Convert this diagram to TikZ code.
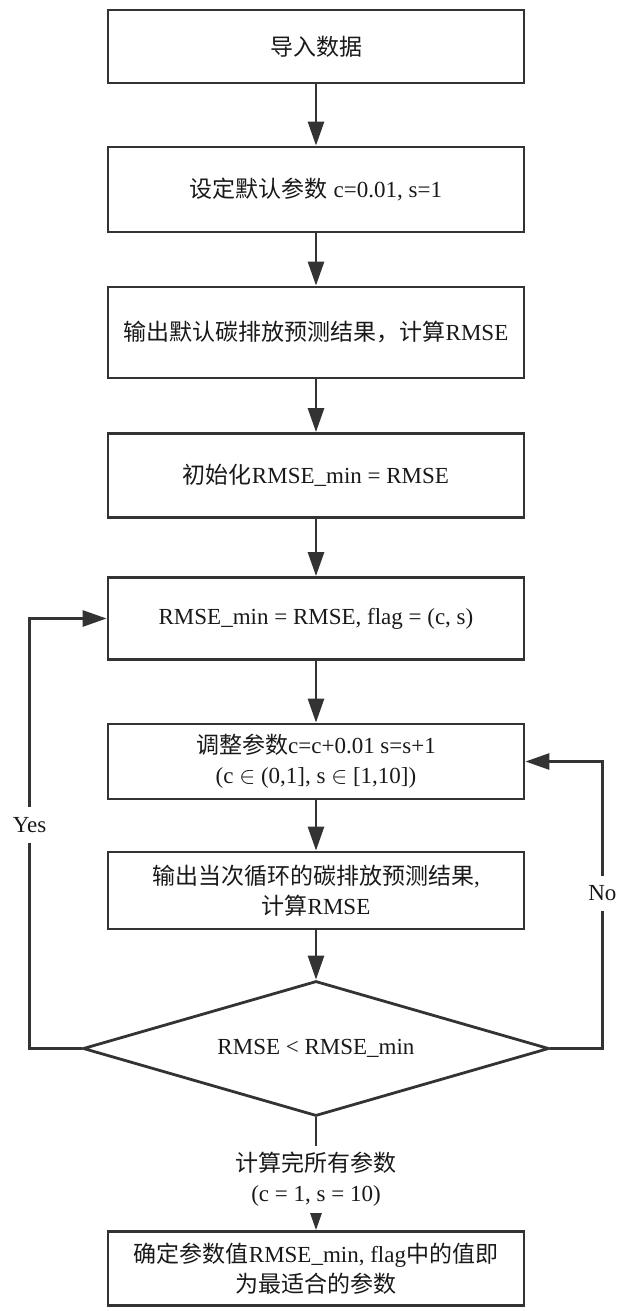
\documentclass[tikz,border=0pt]{standalone}
\usepackage{fontspec}
\setmainfont{Liberation Serif}
\newfontfamily\cjk{Noto Sans CJK SC}
\usetikzlibrary{shapes.geometric,arrows.meta}

\begin{document}
\begin{tikzpicture}[main/.style = {draw, rectangle, minimum width=208pt, minimum height=41pt, align=center},
  cond/.style = {draw, diamond, aspect=3.45, minimum width=233pt, minimum height=67.5pt, inner sep=0pt},
  line/.style = {-{Triangle[length=12pt,width=8pt]}},
  every node/.style = {font=\fontsize{11.5}{15}\selectfont, text=black!90},
  draw=black!80, line width=1.4pt, node distance={71.5pt}]
\useasboundingbox (-158pt,23.25pt) rectangle (150.5pt,-632.25pt);
\node[main, minimum height=36.5pt] (1) {\cjk 导入数据};
\node[main, minimum height=42.5pt] (2) [below of=1] {{\cjk 设定默认参数} c=0.01, s=1};
\node[main, minimum height=45.5pt] (3) [below of=2] {{\cjk 输出默认碳排放预测结果，计算}RMSE};
\node[main, minimum height=42pt] (4) [below of=3] {{\cjk 初始化}RMSE\_min = RMSE};
\node[main] (5) [below of=4] {RMSE\_min = RMSE, flag = (c, s)};
\node[main, minimum height=37.5pt] (6) [below of=5] {{\cjk 调整参数}c=c+0.01 s=s+1\\(c $\in$ (0,1], s $\in$ [1,10])};
\node[main, minimum height=38.5pt] (7) [node distance=64.5pt, below of=6] {{\cjk 输出当次循环的碳排放预测结果}, \\{\cjk 计算}RMSE};
\node[cond] (8) [node distance=79pt, below of=7] {RMSE < RMSE\_min};
\node[main, minimum height=37pt] (9) [node distance=110pt, below of=8] {{\cjk 确定参数值}RMSE\_min, flag{\cjk 中的值即}\\{\cjk 为最适合的参数}};
\draw[line] (1) -- (2);
\draw[line] (2) -- (3);
\draw[line] (3) -- (4);
\draw[line] (4) -- (5);
\draw[line] (5) -- (6);
\draw[line] (6) -- (7);
\draw[line] (7) -- (8);
\draw[line] (8) -- node[pos=0.55, fill=white, align=center] {{\cjk 计算完所有参数}\\(c = 1, s = 10)} (9);
% loop back on both sides
\draw[line] (8.west) -- ++(-26pt,0) |- node[pos=0.26, fill=white, inner sep=5pt] {Yes} (5.west);
\draw[line] (8.east) -- ++(26pt,0) |- node[pos=0.27, fill=white, inner sep=5pt] {No} (6.east);
\end{tikzpicture}
\end{document}
